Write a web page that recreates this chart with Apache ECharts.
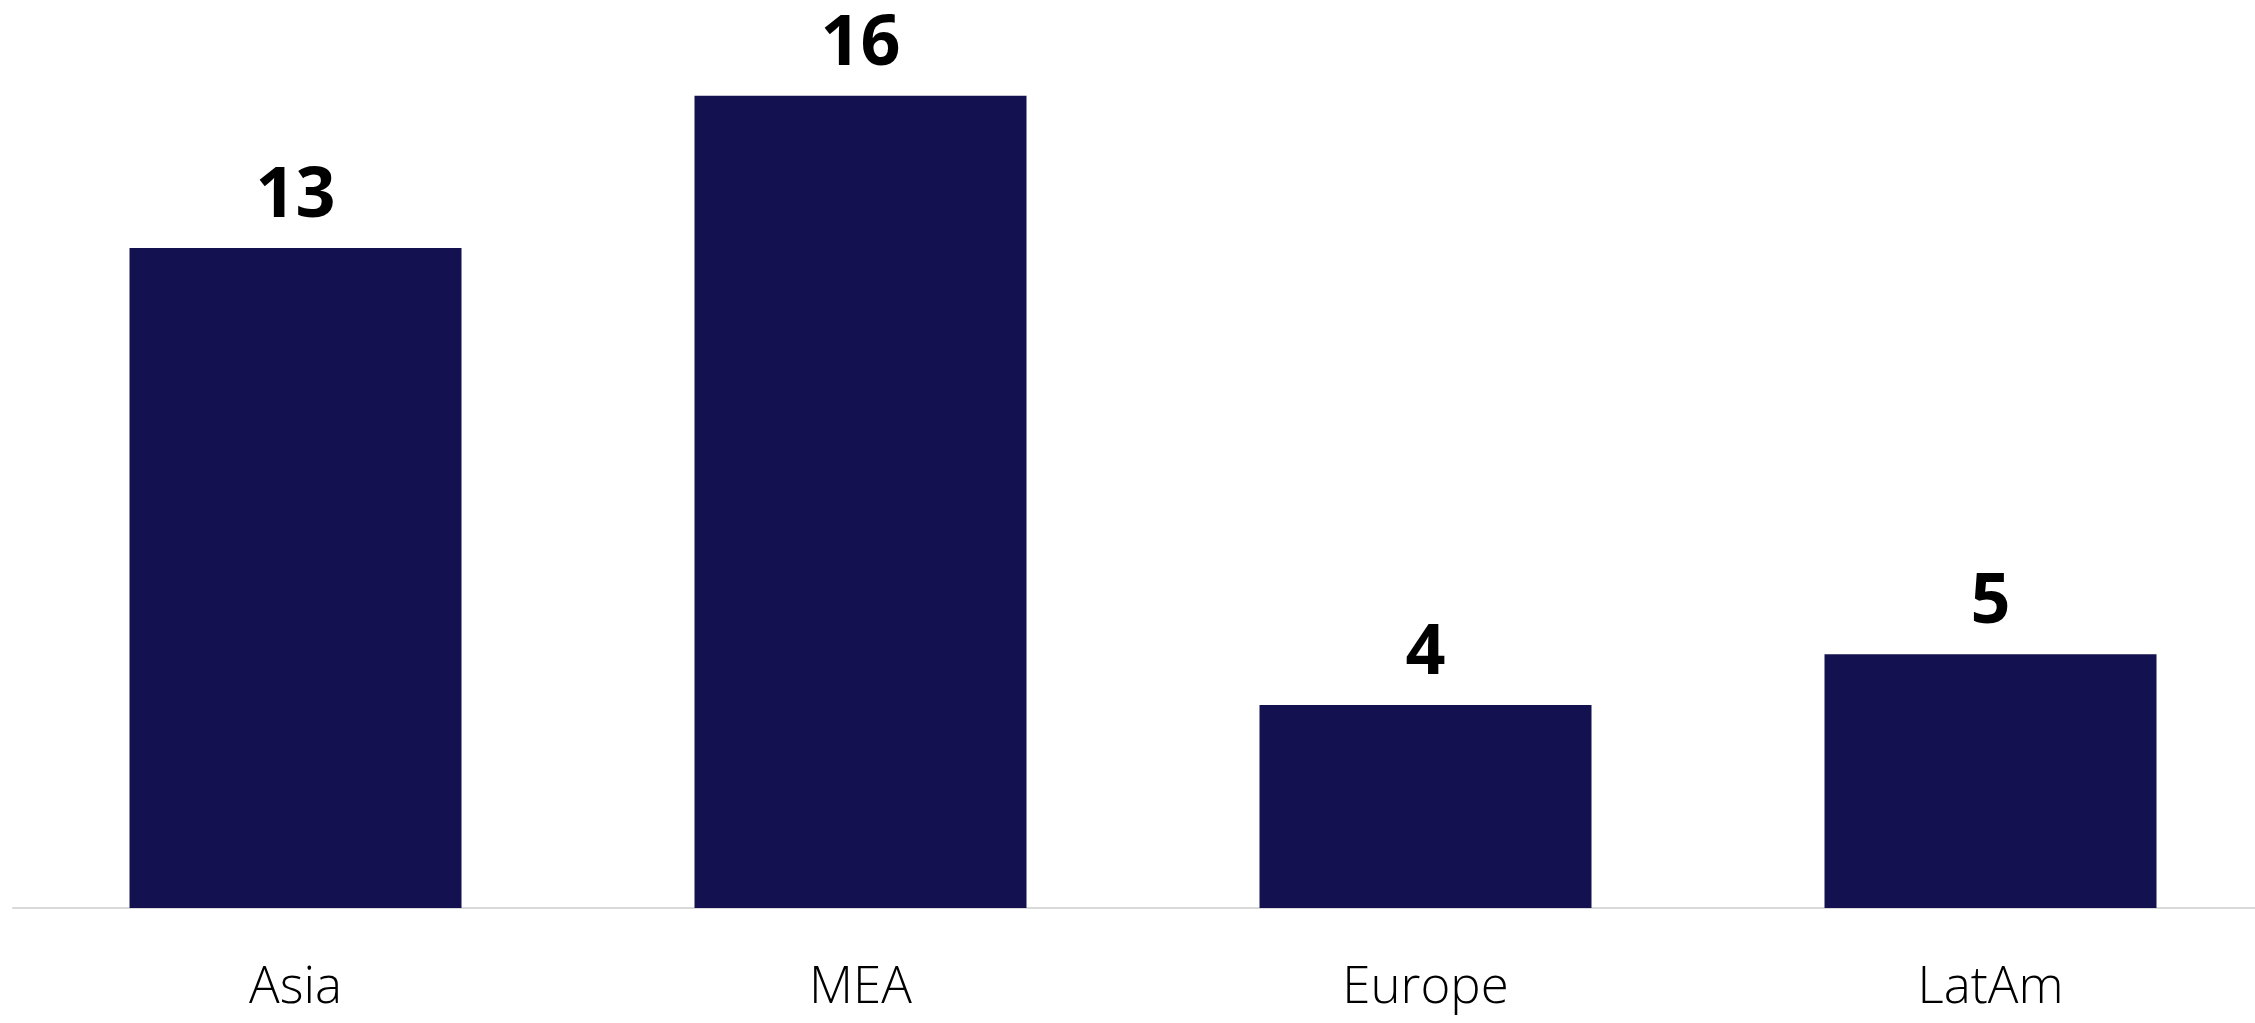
<!DOCTYPE html>
<html>
<head>
<meta charset="utf-8">
<style>
  html, body { margin: 0; padding: 0; background: #ffffff; }
  #chart { width: 2255px; height: 1023px; }
</style>
<script src="https://cdn.jsdelivr.net/npm/echarts@6/dist/echarts.min.js"></script>
</head>
<body>
<div id="chart"></div>
<script>
const categories = ["Asia", "MEA", "Europe", "LatAm"];
const values = [13, 16, 4, 5];

const chart = echarts.init(document.getElementById('chart'));
chart.setOption({
  animation: false,
  backgroundColor: '#ffffff',
  grid: { left: 13, right: -18, top: 45, bottom: 115, containLabel: false, outerBoundsMode: 'none' },
  xAxis: {
    type: 'category',
    data: categories,
    axisLine: { show: true, lineStyle: { color: '#d9d9d9', width: 2 } },
    axisTick: { show: false },
    axisLabel: {
      margin: 55,
      fontSize: 51,
      fontFamily: 'Open Sans',
      fontWeight: 300,
      color: '#000000'
    }
  },
  yAxis: {
    type: 'value',
    min: 0,
    max: 17,
    show: false,
    splitLine: { show: false }
  },
  series: [{
    type: 'bar',
    data: values,
    barWidth: 332,
    itemStyle: { color: '#13114f' },
    label: {
      show: true,
      position: 'top',
      distance: 16,
      fontSize: 70,
      fontWeight: 'bold',
      fontFamily: 'Open Sans',
      color: '#000000'
    }
  }]
});
</script>
</body>
</html>
